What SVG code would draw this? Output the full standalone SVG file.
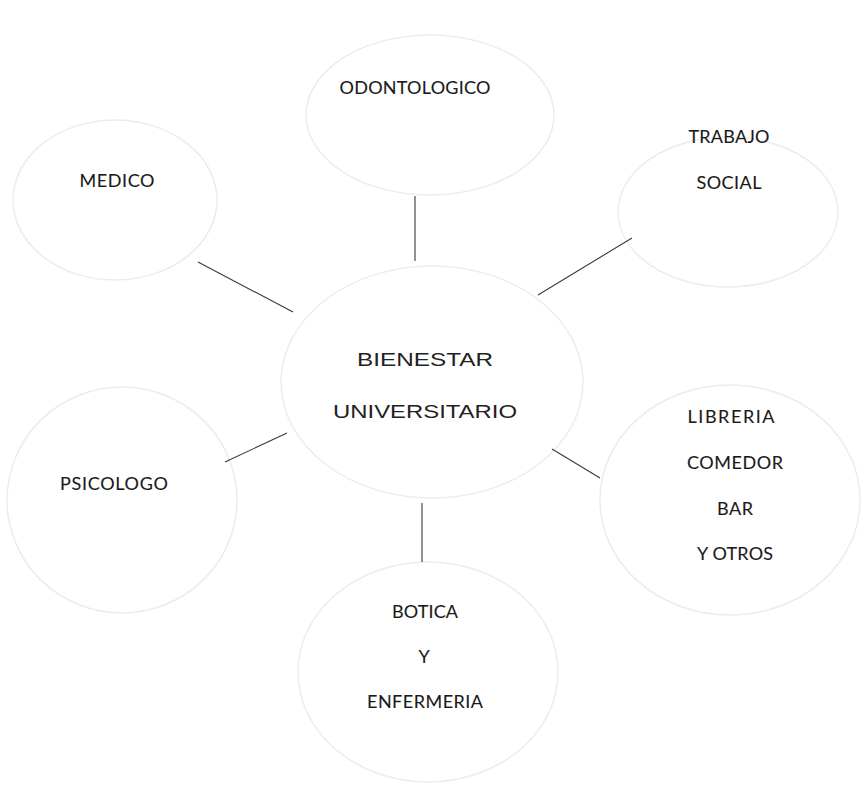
<svg xmlns="http://www.w3.org/2000/svg" width="864" height="785" viewBox="0 0 864 785">
<style>
.bub{fill:#ffffff;stroke:#ececec;stroke-width:1.5}
.lbl{font-family:Lato,"Open Sans","Liberation Sans",sans-serif;font-size:18px;fill:#1a1a1a;stroke:#1a1a1a;stroke-width:0.1;text-anchor:middle}
.main{font-family:"Liberation Sans",Arial,sans-serif;font-size:18.5px;fill:#222;text-anchor:middle}
.con{stroke:#3a3a3a;stroke-width:1.1;fill:none}
</style>
<rect width="864" height="785" fill="#ffffff"/>
<g id="odontologico">
<ellipse class="bub" cx="430" cy="115" rx="124" ry="80"/>
<text class="lbl" x="415" y="94" textLength="151">ODONTOLOGICO</text>
</g>
<g id="medico">
<ellipse class="bub" cx="115" cy="200" rx="102" ry="80"/>
<text class="lbl" x="117" y="187" textLength="75">MEDICO</text>
</g>
<g id="trabajo-social">
<ellipse class="bub" cx="728" cy="212" rx="110" ry="75"/>
<text class="lbl" x="729" y="143" textLength="81">TRABAJO</text>
<text class="lbl" x="729" y="189" textLength="65">SOCIAL</text>
</g>
<g id="psicologo">
<ellipse class="bub" cx="122" cy="500" rx="115" ry="113"/>
<text class="lbl" x="114" y="490" textLength="108">PSICOLOGO</text>
</g>
<g id="libreria">
<ellipse class="bub" cx="730" cy="500" rx="130" ry="115"/>
<text class="lbl" x="731" y="423" textLength="87">LIBRERIA</text>
<text class="lbl" x="735" y="469" textLength="96">COMEDOR</text>
<text class="lbl" x="735" y="515" textLength="36">BAR</text>
<text class="lbl" x="735" y="560" textLength="76">Y OTROS</text>
</g>
<g id="botica">
<ellipse class="bub" cx="428" cy="672" rx="130" ry="110"/>
<text class="lbl" x="425" y="618" textLength="66">BOTICA</text>
<text class="lbl" x="424" y="663">Y</text>
<text class="lbl" x="425" y="708" textLength="116">ENFERMERIA</text>
</g>
<g id="bienestar">
<ellipse class="bub" cx="432" cy="382" rx="151" ry="116"/>
<text class="main" x="425" y="366" textLength="136" lengthAdjust="spacingAndGlyphs">BIENESTAR</text>
<text class="main" x="425" y="418" textLength="184" lengthAdjust="spacingAndGlyphs">UNIVERSITARIO</text>
</g>
<g id="connectors">
<line class="con" x1="415" y1="196" x2="415" y2="261"/>
<line class="con" x1="198" y1="262" x2="293" y2="312"/>
<line class="con" x1="538" y1="295" x2="632" y2="238"/>
<line class="con" x1="225" y1="462" x2="287" y2="433"/>
<line class="con" x1="552" y1="449" x2="600" y2="478"/>
<line class="con" x1="422" y1="503" x2="422" y2="562"/>
</g>
</svg>
